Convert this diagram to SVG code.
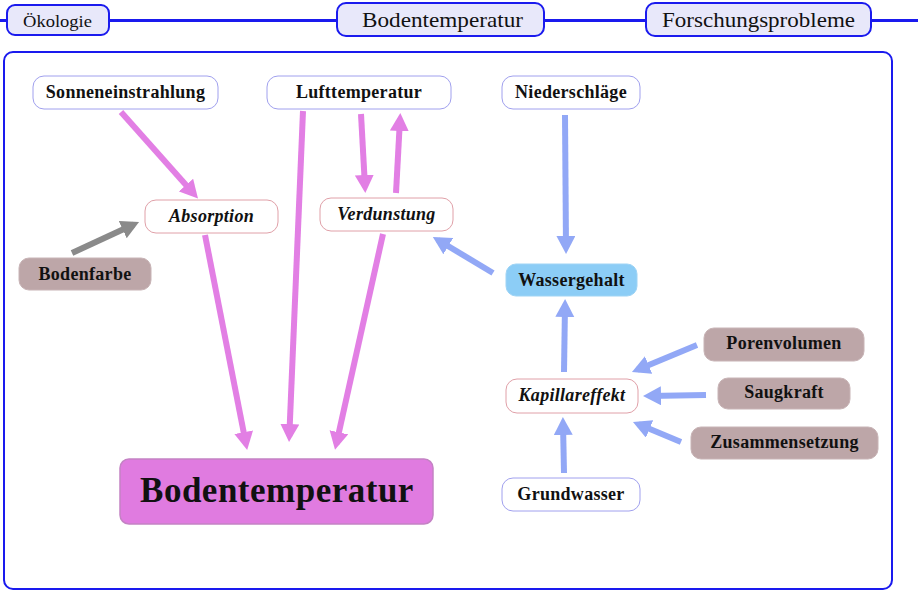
<svg xmlns="http://www.w3.org/2000/svg" width="918" height="591" viewBox="0 0 918 591">
<defs>
<style>
.tab{fill:#e8e8fa;stroke:#1a1aee;stroke-width:2}
.tabt{font-family:"Liberation Serif",serif;fill:#111;text-anchor:middle}
.n{font-family:"Liberation Serif",serif;font-weight:bold;font-size:18px;letter-spacing:0.3px;fill:#111;text-anchor:middle}
.big{font-size:35px;letter-spacing:0.5px}
.i{font-style:italic}
.w{fill:#fff;stroke:#a0a0ee;stroke-width:1}
.r{fill:#fff;stroke:#e0a0a8;stroke-width:1}
.b{fill:#bda6a8;stroke:#c8b4b6;stroke-width:1}
.pk{stroke:#e27fe4;stroke-width:6;fill:none}
.bl{stroke:#92a8f6;stroke-width:6;fill:none}
.gr{stroke:#8a8a8a;stroke-width:6;fill:none}
</style>
<marker id="mp" markerUnits="userSpaceOnUse" markerWidth="20" markerHeight="20" refX="12" refY="9.5" orient="auto"><path d="M0,0 L18,9.5 L0,19 z" fill="#e27fe4"/></marker>
<marker id="mb" markerUnits="userSpaceOnUse" markerWidth="20" markerHeight="20" refX="12" refY="9.5" orient="auto"><path d="M0,0 L18,9.5 L0,19 z" fill="#92a8f6"/></marker>
<marker id="mg" markerUnits="userSpaceOnUse" markerWidth="20" markerHeight="20" refX="12" refY="9.5" orient="auto"><path d="M0,0 L18,9.5 L0,19 z" fill="#8a8a8a"/></marker>
</defs>
<rect width="918" height="591" fill="#fff"/>
<g id="topbar">
<line x1="0" y1="20.5" x2="918" y2="20.5" stroke="#1a1aee" stroke-width="3"/>
<rect class="tab" x="7" y="5" width="102" height="30" rx="8"/>
<text class="tabt" x="57.5" y="27" font-size="17" textLength="69" lengthAdjust="spacingAndGlyphs">Ökologie</text>
<rect class="tab" x="337" y="3" width="207" height="33" rx="9"/>
<text class="tabt" x="442.5" y="27" font-size="21" textLength="161" lengthAdjust="spacingAndGlyphs">Bodentemperatur</text>
<rect class="tab" x="646" y="3" width="225" height="33" rx="9"/>
<text class="tabt" x="758.5" y="27" font-size="21" textLength="193" lengthAdjust="spacingAndGlyphs">Forschungsprobleme</text>
</g>
<rect id="frame" x="4" y="52" width="888" height="537" rx="9" fill="none" stroke="#1a1aee" stroke-width="2"/>
<g id="connectors">
<line class="pk" x1="121" y1="112" x2="194" y2="194" marker-end="url(#mp)"/>
<line class="pk" x1="205" y1="235" x2="246" y2="444" marker-end="url(#mp)"/>
<line class="pk" x1="303" y1="111" x2="289.3" y2="436" marker-end="url(#mp)"/>
<line class="pk" x1="383" y1="234" x2="336.3" y2="444" marker-end="url(#mp)"/>
<line class="pk" x1="361" y1="114" x2="365" y2="187" marker-end="url(#mp)"/>
<line class="pk" x1="396" y1="193" x2="400" y2="119" marker-end="url(#mp)"/>
<line class="gr" x1="72" y1="253" x2="133.6" y2="224.5" marker-end="url(#mg)"/>
<line class="bl" x1="565" y1="115" x2="566" y2="248" marker-end="url(#mb)"/>
<line class="bl" x1="493" y1="273" x2="438" y2="240" marker-end="url(#mb)"/>
<line class="bl" x1="564" y1="372" x2="565" y2="305" marker-end="url(#mb)"/>
<line class="bl" x1="564" y1="473" x2="563" y2="423" marker-end="url(#mb)"/>
<line class="bl" x1="697" y1="345" x2="637.5" y2="369.7" marker-end="url(#mb)"/>
<line class="bl" x1="706" y1="395" x2="649" y2="396" marker-end="url(#mb)"/>
<line class="bl" x1="681" y1="442" x2="638.5" y2="424.3" marker-end="url(#mb)"/>
</g>
<g id="sonneneinstrahlung"><rect class="w" x="33" y="76" width="185" height="33" rx="11"/><text class="n" x="125.5" y="98">Sonneneinstrahlung</text></g>
<g id="lufttemperatur"><rect class="w" x="267" y="76" width="184" height="33" rx="11"/><text class="n" x="359" y="98">Lufttemperatur</text></g>
<g id="niederschlaege"><rect class="w" x="502" y="76" width="138" height="33" rx="11"/><text class="n" x="571" y="98">Niederschläge</text></g>
<g id="absorption"><rect class="r" x="145" y="200" width="133" height="33" rx="11"/><text class="n i" x="211.5" y="222">Absorption</text></g>
<g id="verdunstung"><rect class="r" x="320" y="198" width="133" height="33" rx="11"/><text class="n i" x="386.5" y="220">Verdunstung</text></g>
<g id="bodenfarbe"><rect class="b" x="19" y="258" width="132" height="32" rx="10"/><text class="n" x="85" y="280">Bodenfarbe</text></g>
<g id="wassergehalt"><rect x="506" y="264" width="131" height="32" rx="10" fill="#8ccdf6" stroke="#9fd4f5"/><text class="n" x="571.5" y="286">Wassergehalt</text></g>
<g id="kapillareffekt"><rect class="r" x="506" y="379" width="132" height="34" rx="11"/><text class="n i" x="572" y="401">Kapillareffekt</text></g>
<g id="grundwasser"><rect class="w" x="502" y="478" width="138" height="33" rx="11"/><text class="n" x="571" y="500">Grundwasser</text></g>
<g id="porenvolumen"><rect class="b" x="704" y="328" width="160" height="33" rx="10"/><text class="n" x="784" y="349">Porenvolumen</text></g>
<g id="saugkraft"><rect class="b" x="718" y="378" width="132" height="31" rx="10"/><text class="n" x="784" y="398">Saugkraft</text></g>
<g id="zusammensetzung"><rect class="b" x="691" y="427" width="187" height="32" rx="10"/><text class="n" x="784.5" y="448">Zusammensetzung</text></g>
<g id="bodentemperatur"><rect x="120" y="459" width="313" height="65" rx="9" fill="#e07be0" stroke="#c482c4" stroke-width="1.5"/><text class="n big" x="277" y="502">Bodentemperatur</text></g>
</svg>
